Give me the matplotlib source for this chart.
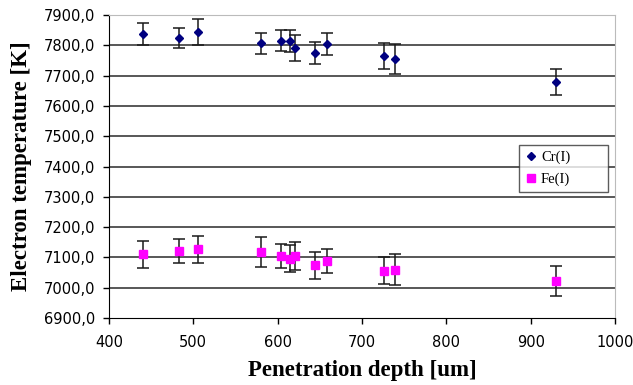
import matplotlib.pyplot as plt
import numpy as np

depth = [440, 483, 506, 580, 604, 615, 620, 644, 658, 726, 739, 930]
cr_temp = [7836, 7823, 7844, 7807, 7815, 7815, 7790, 7774, 7804, 7765, 7755, 7679]
cr_err = [36, 33, 43, 35, 35, 36, 43, 37, 36, 44, 50, 44]
fe_temp = [7110, 7121, 7127, 7118, 7104, 7096, 7104, 7074, 7088, 7056, 7060, 7021]
fe_err = [44, 41, 44, 48, 40, 44, 47, 44, 40, 45, 50, 50]

yticks = np.arange(6900, 7901, 100)
xticks = np.arange(400, 1001, 100)

fig, ax = plt.subplots(figsize=(6.33, 3.85), dpi=100)
fig.subplots_adjust(left=0.172, right=0.972, bottom=0.174, top=0.961)

for yv in yticks[1:-1]:
    ax.axhline(yv, color='#2a2a2a', lw=1.1, zorder=0)

ax.errorbar(depth, cr_temp, yerr=cr_err, fmt='D', color='#000080', ms=4.5,
            ecolor='#1a1a1a', elinewidth=1.1, capsize=4, capthick=1.1, label='Cr(I)', zorder=3)
ax.errorbar(depth, fe_temp, yerr=fe_err, fmt='s', color='#ff00ff', ms=5.5,
            ecolor='#1a1a1a', elinewidth=1.1, capsize=4, capthick=1.1, label='Fe(I)', zorder=3)

ax.set_xlim(400, 1000)
ax.set_ylim(6900, 7900)
ax.set_xticks(xticks)
ax.set_yticks(yticks)
ax.set_yticklabels([f'{v:.1f}'.replace('.', ',') for v in yticks])
ax.tick_params(direction='out', length=4, width=1, labelsize=10.5, colors='black', pad=6)
ax.tick_params(axis='x', pad=8)

ax.spines['left'].set_color('black')
ax.spines['bottom'].set_color('black')
ax.spines['top'].set_color('#bbbbbb')
ax.spines['right'].set_color('#bbbbbb')

ax.set_xlabel('Penetration depth [um]', fontsize=16.5, fontweight='bold', family='Liberation Serif')
ax.set_ylabel('Electron temperature [K]', fontsize=16.5, fontweight='bold', family='Liberation Serif')
ax.xaxis.set_label_coords(0.5, -0.138)
ax.yaxis.set_label_coords(-0.152, 0.5)

handles, labels = ax.get_legend_handles_labels()
handles = [h[0] for h in handles]
leg = ax.legend(handles, labels, loc='lower left', bbox_to_anchor=(0.81, 0.416, 0.176, 0.165),
                mode='expand', prop={'family': 'Liberation Serif', 'size': 10.5},
                frameon=True, fancybox=False, edgecolor='#333333', handlelength=0.8,
                handletextpad=0.3, borderaxespad=0, labelspacing=0.6)
leg.get_frame().set_linewidth(1.0)

fig.savefig('out.png', facecolor='white')
